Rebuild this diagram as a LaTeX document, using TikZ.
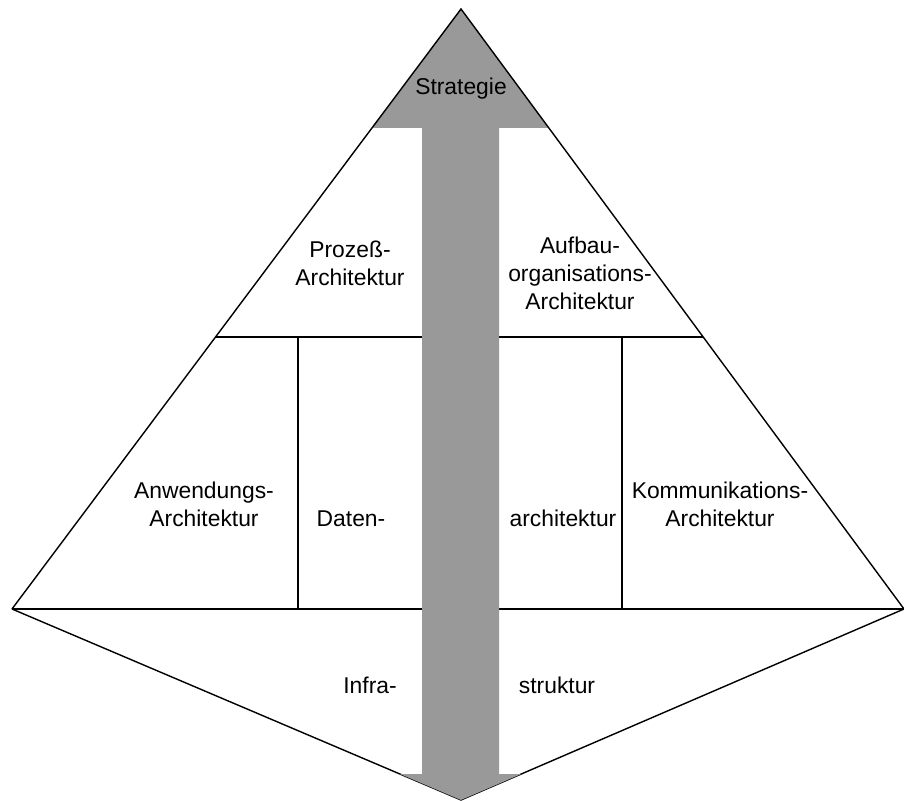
\documentclass[tikz,border=0pt]{standalone}
\usepackage{fontspec}
\setmainfont{Liberation Sans}
\usetikzlibrary{calc}

\begin{document}
\begin{tikzpicture}[
  part/.style={align=center,inner sep=0pt,font=\fontsize{13}{15.8}\selectfont},
  edge/.style={line width=0.8pt,black},
  shaft/.style={fill=black!40},
]
\useasboundingbox (0,0) rectangle (18.08,16);

% ==== CORNERS ====
\coordinate (apex) at (9.22,15.82);
\coordinate (L) at (0.24,3.82);
\coordinate (R) at (18.08,3.82);
\coordinate (bot) at (9.22,0);

% points on the edges
\coordinate (midL) at ($(apex)!0.5467!(L)$);
\coordinate (midR) at ($(apex)!0.5467!(R)$);
\coordinate (topL) at ($(apex)!0.1983!(L)$);
\coordinate (topR) at ($(apex)!0.1983!(R)$);
\coordinate (headL) at ($(L)!0.8639!(bot)$);
\coordinate (headR) at ($(R)!0.8639!(bot)$);
\coordinate (colA) at (5.96,9.26);
\coordinate (colB) at (12.44,9.26);
\coordinate (shaftL) at (8.44,13.44);
\coordinate (shaftR) at (9.98,13.44);

% ==== DIVIDING LINES ====
\draw[edge] (midL) -- (midR);
\draw[edge] (colA) -- (colA|-L);
\draw[edge] (colB) -- (colB|-L);
\draw[edge] (L) -- (R);
\draw[edge] (L) -- (bot) -- (R);

% ==== ARROW ====
\fill[shaft] (apex) -- (topR) -- (shaftR) -- (shaftR|-headR) -- (headR) -- (bot)
  -- (headL) -- (shaftL|-headL) -- (shaftL) -- (topL) -- cycle;

\draw[edge] (L) -- (apex) -- (R);

% ==== LABELS ====
\node[part,anchor=base] (strat) at (9.22,14.10) {Strategie};
\node[part] (proz) at (7.0,10.74) {Prozeß-\\Architektur};
\node[part] (aufbau) at (11.6,10.53) {Aufbau-\\organisations-\\Architektur};
\node[part] (anw) at (4.08,5.91) {Anwendungs-\\Architektur};
\node[part,anchor=base] (daten) at (7.02,5.46) {Daten-};
\node[part,anchor=base] (darch) at (11.26,5.46) {architektur};
\node[part] (komm) at (14.4,5.91) {Kommunikations-\\Architektur};
\node[part,anchor=base] (infra) at (7.40,2.12) {Infra-};
\node[part,anchor=base] (struk) at (11.14,2.12) {struktur};

\end{tikzpicture}
\end{document}
